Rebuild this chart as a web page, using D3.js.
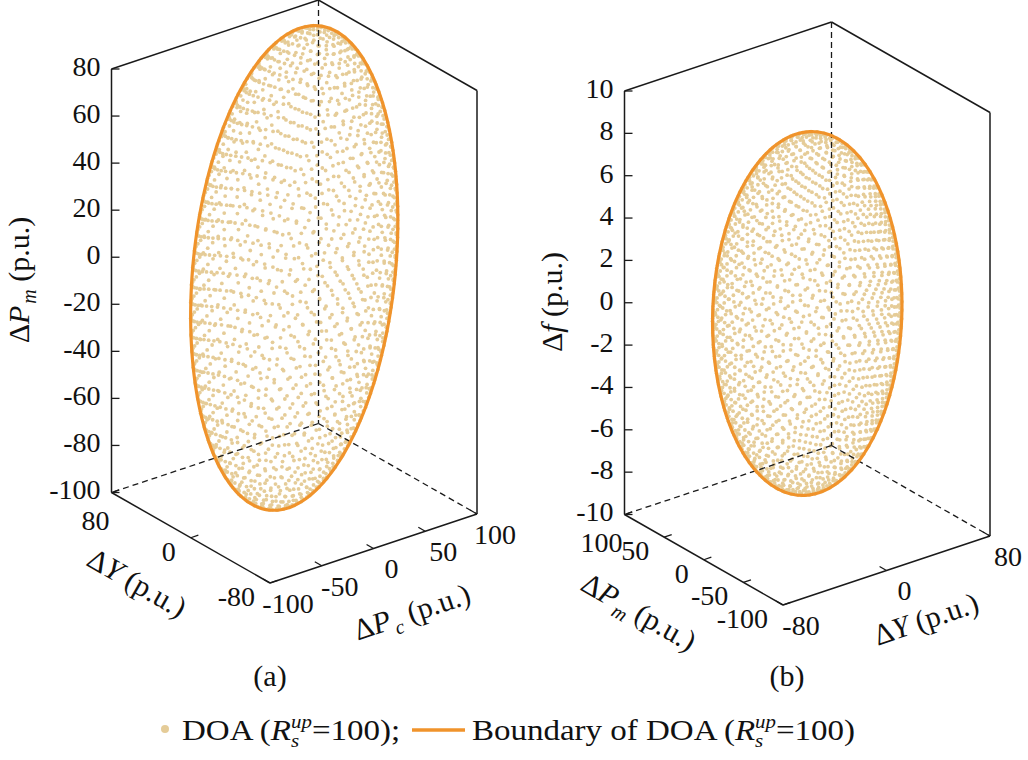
<!DOCTYPE html>
<html>
<head>
<meta charset="utf-8">
<script src="https://cdn.jsdelivr.net/npm/d3@7"></script>
<style>
body { margin: 0; background: #fff; }
text { font-family: "Liberation Serif", "Times New Roman", serif; fill: #111; }
</style>
</head>
<body>
<script>
// ---- values ----
// panel (a): right edge = dPc, left edge = dY, vertical = dPm
var aRightDomain = [-100, 100];
var aLeftDomain = [-80, 80];
var aUpDomain = [-100, 80];
var aRightTicks = [-100, -50, 0, 50, 100];
var aLeftTicks = [-80, 0, 80];
var aUpTicks = [-100, -80, -60, -40, -20, 0, 20, 40, 60, 80];
// DOA ellipsoid: half extent on (right, left, up) and correlations [right-left, right-up, left-up]
var aHalf = [82, 60, 98.5];
var aCorr = [0, 0.233, 0];

// panel (b): right edge = dY, left edge = dPm, vertical = df
var bRightDomain = [-80, 80];
var bLeftDomain = [-100, 100];
var bUpDomain = [-10, 10];
var bRightTicks = [-80, 0, 80];
var bLeftTicks = [-100, -50, 0, 50, 100];
var bUpTicks = [-10, -8, -6, -4, -2, 0, 2, 4, 6, 8, 10];
var bHalf = [60, 98.5, 8.45];
var bCorr = [0.26, 0, -0.138];

var nSamples = 2000;   // sample points drawn on each DOA surface

// ---- layout ----
var W = 1028, H = 760;
var dotColor = "#e5cc98", lineColor = "#f0932b", boxColor = "#1a1a1a";
var vRight = [207, -69], vLeft = [-158.5, -90.5], vUp = [0, -423.5];
var tickFont = "28px";

var panels = [
  {front: [270, 583], right: aRightDomain, left: aLeftDomain, up: aUpDomain,
   rightTicks: aRightTicks, leftTicks: aLeftTicks, upTicks: aUpTicks,
   half: aHalf, corr: aCorr, name: "(a)", nameX: 270,
   titleUp: {x: 19, y: 280, sym: "P", sub: "m"},
   titleLeft: {x: 137, y: 583, sym: "Y", sub: null},
   titleRight: {x: 412, y: 612, sym: "P", sub: "c"}},
  {front: [783, 605], right: bRightDomain, left: bLeftDomain, up: bUpDomain,
   rightTicks: bRightTicks, leftTicks: bLeftTicks, upTicks: bUpTicks,
   half: bHalf, corr: bCorr, name: "(b)", nameX: 787,
   titleUp: {x: 552, y: 302, sym: "f", sub: null},
   titleLeft: {x: 639, y: 612, sym: "P", sub: "m"},
   titleRight: {x: 926, y: 619, sym: "Y", sub: null}}
];

var svg = d3.select("body").append("svg")
    .attr("width", W)
    .attr("height", H);

function cholesky(S) {
  var L = [[0, 0, 0], [0, 0, 0], [0, 0, 0]];
  for (var i = 0; i < 3; i++) {
    for (var j = 0; j <= i; j++) {
      var s = S[i][j];
      for (var k = 0; k < j; k++) s -= L[i][k] * L[j][k];
      L[i][j] = i === j ? Math.sqrt(s) : s / L[j][j];
    }
  }
  return L;
}

function mul(L, u) {
  return [0, 1, 2].map(function(i) {
    return L[i][0] * u[0] + L[i][1] * u[1] + L[i][2] * u[2];
  });
}

function fmt(d) { return String(d); }

function axisTitle(g, t, angle) {
  var tx = g.append("text")
      .attr("transform", "translate(" + t.x + "," + t.y + ") rotate(" + angle + ")")
      .attr("y", 10)
      .attr("text-anchor", "middle")
      .style("font-size", "30px");
  tx.append("tspan").text("\u0394");
  tx.append("tspan").style("font-style", "italic").text(t.sym);
  if (t.sub) {
    tx.append("tspan").style("font-style", "italic").style("font-size", "20px")
      .attr("dx", 2).attr("dy", 7).text(t.sub);
    tx.append("tspan").attr("dy", -7).text(" (p.u.)");
  } else {
    tx.append("tspan").text(" (p.u.)");
  }
}

panels.forEach(function(pc) {
  var g = svg.append("g");
  var sr = d3.scaleLinear().domain(pc.right).range([0, 1]);
  var sl = d3.scaleLinear().domain(pc.left).range([0, 1]);
  var su = d3.scaleLinear().domain(pc.up).range([0, 1]);

  function proj(p) {
    var a = sr(p[0]), b = sl(p[1]), c = su(p[2]);
    return [pc.front[0] + a * vRight[0] + b * vLeft[0] + c * vUp[0],
            pc.front[1] + a * vRight[1] + b * vLeft[1] + c * vUp[1]];
  }

  // ellipsoid shape
  var h = pc.half, c = pc.corr;
  var S = [[h[0] * h[0], h[0] * h[1] * c[0], h[0] * h[2] * c[1]],
           [h[0] * h[1] * c[0], h[1] * h[1], h[1] * h[2] * c[2]],
           [h[0] * h[2] * c[1], h[1] * h[2] * c[2], h[2] * h[2]]];
  var L = cholesky(S);

  // sample points on the surface (golden-angle spiral)
  var ga = Math.PI * (3 - Math.sqrt(5));
  var pts = d3.range(nSamples).map(function(i) {
    var z = 1 - 2 * (i + 0.5) / nSamples;
    var r = Math.sqrt(1 - z * z);
    var u = [r * Math.cos(i * ga), r * Math.sin(i * ga), z];
    return proj(mul(L, u));
  });

  g.append("g").selectAll("circle")
    .data(pts)
    .enter()
    .append("circle")
      .attr("cx", function(d) { return d[0]; })
      .attr("cy", function(d) { return d[1]; })
      .attr("r", 1.9)
      .attr("fill", dotColor);

  // box
  var r0 = pc.right[0], r1 = pc.right[1], l0 = pc.left[0], l1 = pc.left[1];
  var u0 = pc.up[0], u1 = pc.up[1];
  var solid = [
    [[r0, l1, u0], [r0, l1, u1]],
    [[r0, l1, u1], [r1, l1, u1]],
    [[r1, l1, u1], [r1, l0, u1]],
    [[r1, l0, u1], [r1, l0, u0]],
    [[r0, l1, u0], [r0, l0, u0]],
    [[r0, l0, u0], [r1, l0, u0]]
  ];
  var dashed = [
    [[r1, l1, u1], [r1, l1, u0]],
    [[r1, l1, u0], [r0, l1, u0]],
    [[r1, l1, u0], [r1, l0, u0]]
  ];
  var line = d3.line();
  g.selectAll(".dash").data(dashed).enter().append("path")
      .attr("class", "dash")
      .attr("d", function(d) { return line(d.map(proj)); })
      .attr("fill", "none")
      .attr("stroke", boxColor)
      .attr("stroke-width", 1.3)
      .attr("stroke-dasharray", "6,4");
  g.selectAll(".edge").data(solid).enter().append("path")
      .attr("class", "edge")
      .attr("d", function(d) { return line(d.map(proj)); })
      .attr("fill", "none")
      .attr("stroke", boxColor)
      .attr("stroke-width", 1.5);

  // boundary: silhouette of the ellipsoid in this view
  var o = proj([0, 0, 0]);
  var M = [0, 1, 2].map(function(k) {
    var e = [0, 0, 0]; e[k] = 1;
    var q = proj(e);
    return [q[0] - o[0], q[1] - o[1]];
  });
  var B = [0, 1].map(function(rw) {
    return [0, 1, 2].map(function(k) {
      return M[0][rw] * L[0][k] + M[1][rw] * L[1][k] + M[2][rw] * L[2][k];
    });
  });
  var n1 = Math.hypot(B[0][0], B[0][1], B[0][2]);
  var e1 = B[0].map(function(v) { return v / n1; });
  var dp = B[1][0] * e1[0] + B[1][1] * e1[1] + B[1][2] * e1[2];
  var e2 = B[1].map(function(v, k) { return v - dp * e1[k]; });
  var n2 = Math.hypot(e2[0], e2[1], e2[2]);
  e2 = e2.map(function(v) { return v / n2; });
  var rim = d3.range(0, 360, 1.5).map(function(a) {
    var t = a * Math.PI / 180;
    var u = [0, 1, 2].map(function(k) { return Math.cos(t) * e1[k] + Math.sin(t) * e2[k]; });
    return proj(mul(L, u));
  });
  g.append("path")
      .attr("d", d3.line().curve(d3.curveLinearClosed)(rim))
      .attr("fill", "none")
      .attr("stroke", lineColor)
      .attr("stroke-width", 3.2);

  // ticks
  var tl = 8;
  var nR = Math.hypot(vRight[0], vRight[1]), nL = Math.hypot(vLeft[0], vLeft[1]);
  pc.upTicks.forEach(function(v) {
    var p = proj([r0, l1, v]);
    g.append("line").attr("x1", p[0]).attr("y1", p[1]).attr("x2", p[0] + tl).attr("y2", p[1])
      .attr("stroke", boxColor).attr("stroke-width", 1.3);
    g.append("text").attr("x", p[0] - 11).attr("y", p[1] - 3).attr("dy", "0.35em")
      .attr("text-anchor", "end").style("font-size", tickFont).text(fmt(v));
  });
  pc.rightTicks.forEach(function(v) {
    var p = proj([v, l0, u0]);
    g.append("line").attr("x1", p[0]).attr("y1", p[1])
      .attr("x2", p[0] + tl * vLeft[0] / nL).attr("y2", p[1] + tl * vLeft[1] / nL)
      .attr("stroke", boxColor).attr("stroke-width", 1.3);
    g.append("text").attr("x", p[0] + 18).attr("y", p[1] + 20).attr("dy", "0.35em")
      .attr("text-anchor", "middle").style("font-size", tickFont).text(fmt(v));
  });
  pc.leftTicks.forEach(function(v) {
    var p = proj([r0, v, u0]);
    var corner = v === l1;   // label at the box corner sits lower, clear of the vertical axis
    g.append("line").attr("x1", p[0]).attr("y1", p[1])
      .attr("x2", p[0] + tl * vRight[0] / nR).attr("y2", p[1] + tl * vRight[1] / nR)
      .attr("stroke", boxColor).attr("stroke-width", 1.3);
    g.append("text").attr("x", p[0] + (corner ? -2 : -15)).attr("y", p[1] + (corner ? 28 : 13))
      .attr("dy", "0.35em")
      .attr("text-anchor", "end").style("font-size", tickFont).text(fmt(v));
  });

  var angL = Math.atan2(vLeft[1], vLeft[0]) * 180 / Math.PI + 180;
  var angR = Math.atan2(vRight[1], vRight[0]) * 180 / Math.PI;
  axisTitle(g, pc.titleUp, -90);
  axisTitle(g, pc.titleLeft, angL);
  axisTitle(g, pc.titleRight, angR);

  g.append("text").attr("x", pc.nameX).attr("y", 686)
    .attr("text-anchor", "middle").style("font-size", "30px").text(pc.name);
});

// ---- legend ----
var leg = svg.append("g");
leg.append("circle").attr("cx", 165).attr("cy", 729).attr("r", 4).attr("fill", dotColor);
leg.append("line").attr("x1", 412).attr("x2", 465).attr("y1", 730).attr("y2", 730)
  .attr("stroke", lineColor).attr("stroke-width", 3.5);

function legendText(x, label) {
  var t = leg.append("text")
      .attr("transform", "translate(" + x + ",740) scale(1.1,1)")
      .style("font-size", "30px");
  t.append("tspan").text(label + " (");
  t.append("tspan").style("font-style", "italic").text("R");
  t.append("tspan").style("font-style", "italic").style("font-size", "19px")
    .attr("dy", 7).text("s");
  t.append("tspan").style("font-style", "italic").style("font-size", "19px")
    .attr("dx", -7.4).attr("dy", -19).text("up");
  t.append("tspan").attr("dy", 12).text("=100)");
  return t;
}
legendText(182, "DOA").append("tspan").text(";");
legendText(472, "Boundary of DOA");
</script>
</body>
</html>
